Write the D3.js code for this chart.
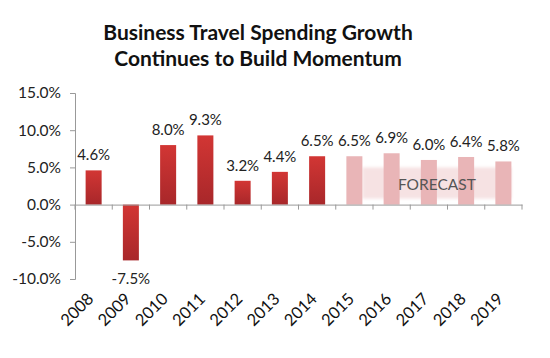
<!DOCTYPE html>
<html>
<head>
<meta charset="utf-8">
<script src="https://cdn.jsdelivr.net/npm/d3@7"></script>
<style>
  body { margin: 0; background: #fff; }
  text { font-family: Lato, "Open Sans", sans-serif; }
</style>
</head>
<body>
<svg id="chart"></svg>
<script>
// growth of business travel spending, actual then forecast
const years = ["2008","2009","2010","2011","2012","2013","2014","2015","2016","2017","2018","2019"];
const growth = [4.6, -7.5, 8.0, 9.3, 3.2, 4.4, 6.5, 6.5, 6.9, 6.0, 6.4, 5.8];
const forecastFrom = "2015";
const yTicks = [-10, -5, 0, 5, 10, 15];
const titleLines = ["Business Travel Spending Growth", "Continues to Build Momentum"];

var width = 550, height = 358;
var margin = {top: 93, right: 28, bottom: 78, left: 75};

const svg = d3.select("#chart")
  .attr("width", width)
  .attr("height", height);

const x = d3.scaleBand()
  .domain(years)
  .range([margin.left, width - margin.right])
  .paddingInner(0.57)
  .paddingOuter(0.285);

const y = d3.scaleLinear()
  .domain([-10, 15])
  .range([height - margin.bottom - 1, margin.top]);

const defs = svg.append("defs");
const grad = defs.append("linearGradient")
  .attr("id", "redgrad")
  .attr("x1", 0).attr("y1", 0).attr("x2", 0).attr("y2", 1);
grad.append("stop").attr("offset", "0%").attr("stop-color", "#d23634");
grad.append("stop").attr("offset", "100%").attr("stop-color", "#a8272a");

const blur = defs.append("filter").attr("id", "soft")
  .attr("x", "-10%").attr("y", "-30%").attr("width", "120%").attr("height", "160%");
blur.append("feGaussianBlur").attr("stdDeviation", 1.5);

// titre
svg.append("g").selectAll("text")
  .data(titleLines)
  .enter().append("text")
  .attr("x", 258)
  .attr("y", (d, i) => 40 + i * 26)
  .attr("text-anchor", "middle")
  .attr("font-size", "21px")
  .attr("font-weight", "bold")
  .attr("fill", "#111")
  .text(d => d);

// zone forecast
const fIdx = years.indexOf(forecastFrom);
svg.append("rect")
  .attr("x", x(years[fIdx]) + x.bandwidth())
  .attr("y", y(5))
  .attr("width", x(years[years.length - 1]) - x(years[fIdx]))
  .attr("height", y(0.8) - y(5))
  .attr("fill", "#f6e2e3")
  .attr("filter", "url(#soft)");

// barres
svg.append("g").selectAll("rect")
  .data(growth)
  .enter().append("rect")
  .attr("x", (d, i) => x(years[i]))
  .attr("width", x.bandwidth())
  .attr("y", d => y(Math.max(0, d)))
  .attr("height", d => Math.abs(y(d) - y(0)))
  .attr("fill", (d, i) => i >= fIdx ? "#e9b5b7" : "url(#redgrad)");

svg.append("text")
  .attr("x", (x(years[fIdx]) + x.bandwidth() + x(years[years.length - 1]) + x.bandwidth()) / 2)
  .attr("y", y(1.9))
  .attr("text-anchor", "middle")
  .attr("font-size", "15.5px")
  .attr("fill", "#555")
  .text("FORECAST");

// étiquettes de valeurs
svg.append("g").selectAll("text")
  .data(growth)
  .enter().append("text")
  .attr("x", (d, i) => x(years[i]) + x.bandwidth() / 2)
  .attr("y", d => d >= 0 ? y(d) - 10 : y(d) + 24)
  .attr("text-anchor", "middle")
  .attr("font-size", "15px")
  .attr("fill", "#222")
  .text(d => d.toFixed(1) + "%");

// axe y
const yAxis = svg.append("g")
  .attr("transform", `translate(${margin.left},0)`)
  .call(d3.axisLeft(y).tickValues(yTicks).tickSize(5).tickPadding(9)
    .tickFormat(d => d.toFixed(1) + "%"));
yAxis.select(".domain").attr("stroke", "#999");
yAxis.selectAll(".tick line").attr("stroke", "#999");
yAxis.selectAll("text")
  .attr("font-family", "Lato, 'Open Sans', sans-serif")
  .attr("font-size", "15.5px")
  .attr("fill", "#222");

// axe x sur le zéro
const xAxis = svg.append("g")
  .attr("transform", `translate(0,${y(0)})`)
  .call(d3.axisBottom(x).tickSize(0).tickFormat(""));
xAxis.select(".domain").attr("stroke", "#999");
xAxis.selectAll(".tick").remove();

svg.append("g").selectAll("line")
  .data(years.concat(["end"]))
  .enter().append("line")
  .attr("x1", (d, i) => margin.left + i * x.step())
  .attr("x2", (d, i) => margin.left + i * x.step())
  .attr("y1", y(0))
  .attr("y2", y(0) + 5)
  .attr("stroke", "#999");

// années en diagonale
svg.append("g").selectAll("text")
  .data(years)
  .enter().append("text")
  .attr("transform", d => `translate(${x(d) + x.bandwidth() / 2 + 1},${300}) rotate(-45)`)
  .attr("text-anchor", "end")
  .attr("font-size", "16.5px")
  .attr("fill", "#111")
  .text(d => d);
</script>
</body>
</html>
